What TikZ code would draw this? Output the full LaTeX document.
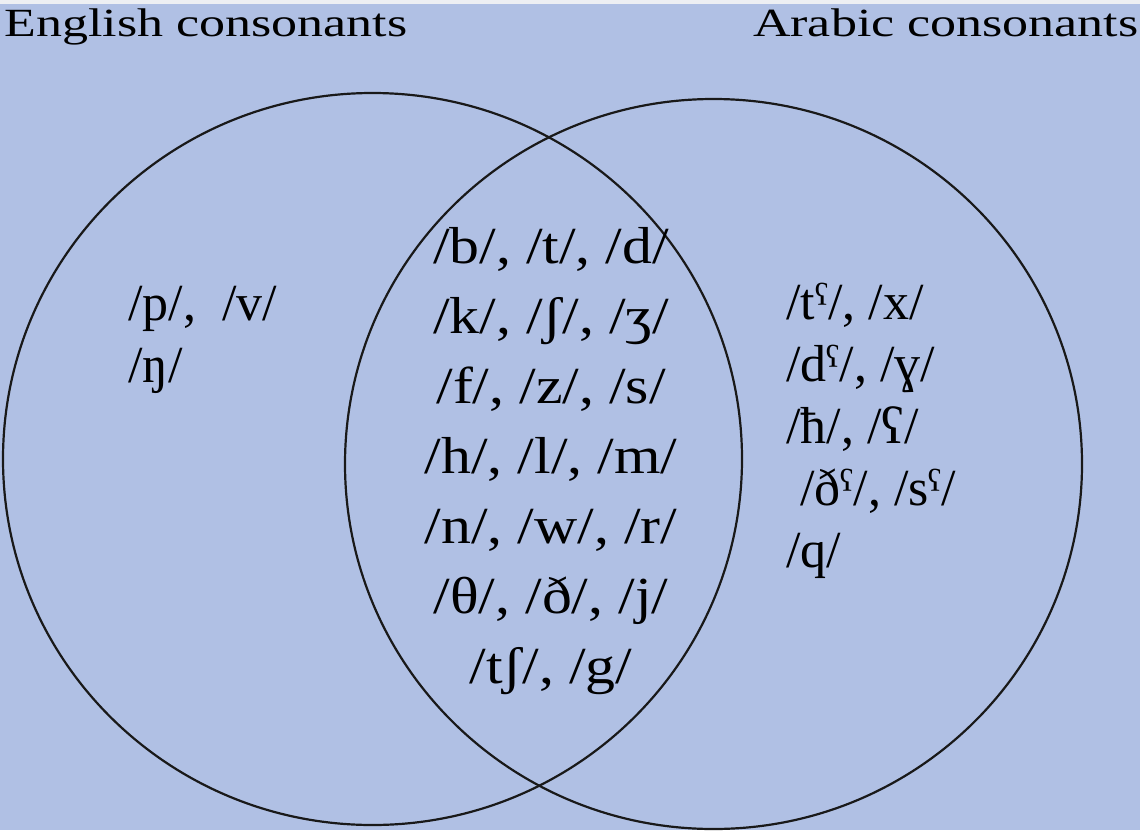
\documentclass[tikz,border=0pt]{standalone}
\usepackage{fontspec}
\setmainfont{Liberation Serif}
\usepackage{graphicx}
\usepackage{xcolor}
\definecolor{vennbg}{HTML}{B0C0E4}
\definecolor{topstrip}{HTML}{EDEFF3}
\newcommand{\wide}[2][1.0]{\scalebox{#1}[1]{#2}}

\begin{document}
\begin{tikzpicture}[
    x=0.5pt, y=-0.5pt,
    venn/.style={draw=black!90, line width=1.1pt},
    title/.style={font=\fontsize{20}{24}\selectfont, inner sep=0pt},
    sounds/.style={font=\fontsize{26}{#1}\selectfont, inner sep=0pt},
]
\useasboundingbox (0,0) rectangle (1140,830);

% Fondo
\fill[vennbg] (0,0) rectangle (1140,830);
\fill[topstrip] (0,0) rectangle (1140,4);

% Circulos
\coordinate (engc) at (372.5,459);
\coordinate (arac) at (713.5,464);
\draw[venn] (engc) ellipse [x radius=369.5, y radius=366];
\draw[venn] (arac) ellipse [x radius=368.5, y radius=365];

% Titulos
\node[title, anchor=base west] (engtitle) at (4,36) {\wide[1.3]{English consonants}};
\node[title, anchor=base east] (aratitle) at (1139,36) {\wide[1.3]{Arabic consonants}};

% Solo ingles
\node[sounds=31, anchor=base west, align=left] (engonly) at (128,382) {
    \wide{/p/,\ \ /v/}\\
    \wide{/ŋ/}
};

% Compartidos
\node[sounds=35, anchor=base, align=center] (shared) at (551,683) {
    \wide[1.15]{/b/, /t/, /d/}\\
    \wide[1.15]{/k/, /ʃ/, /ʒ/}\\
    \wide[1.15]{/f/, /z/, /s/}\\
    \wide[1.15]{/h/, /l/, /m/}\\
    \wide[1.15]{/n/, /w/, /r/}\\
    \wide[1.15]{/θ/, /ð/, /j/}\\
    \wide[1.15]{/tʃ/, /g/}
};

% Solo arabe
\node[sounds=31, anchor=base west, align=left] (araonly) at (786,567) {
    \wide{/tˤ/, /x/}\\
    \wide{/dˤ/, /ɣ/}\\
    \wide{/ħ/, /ʕ/}\\
    \wide{\hspace*{7pt}/ðˤ/, /sˤ/}\\
    \wide{/q/}
};

\end{tikzpicture}
\end{document}
